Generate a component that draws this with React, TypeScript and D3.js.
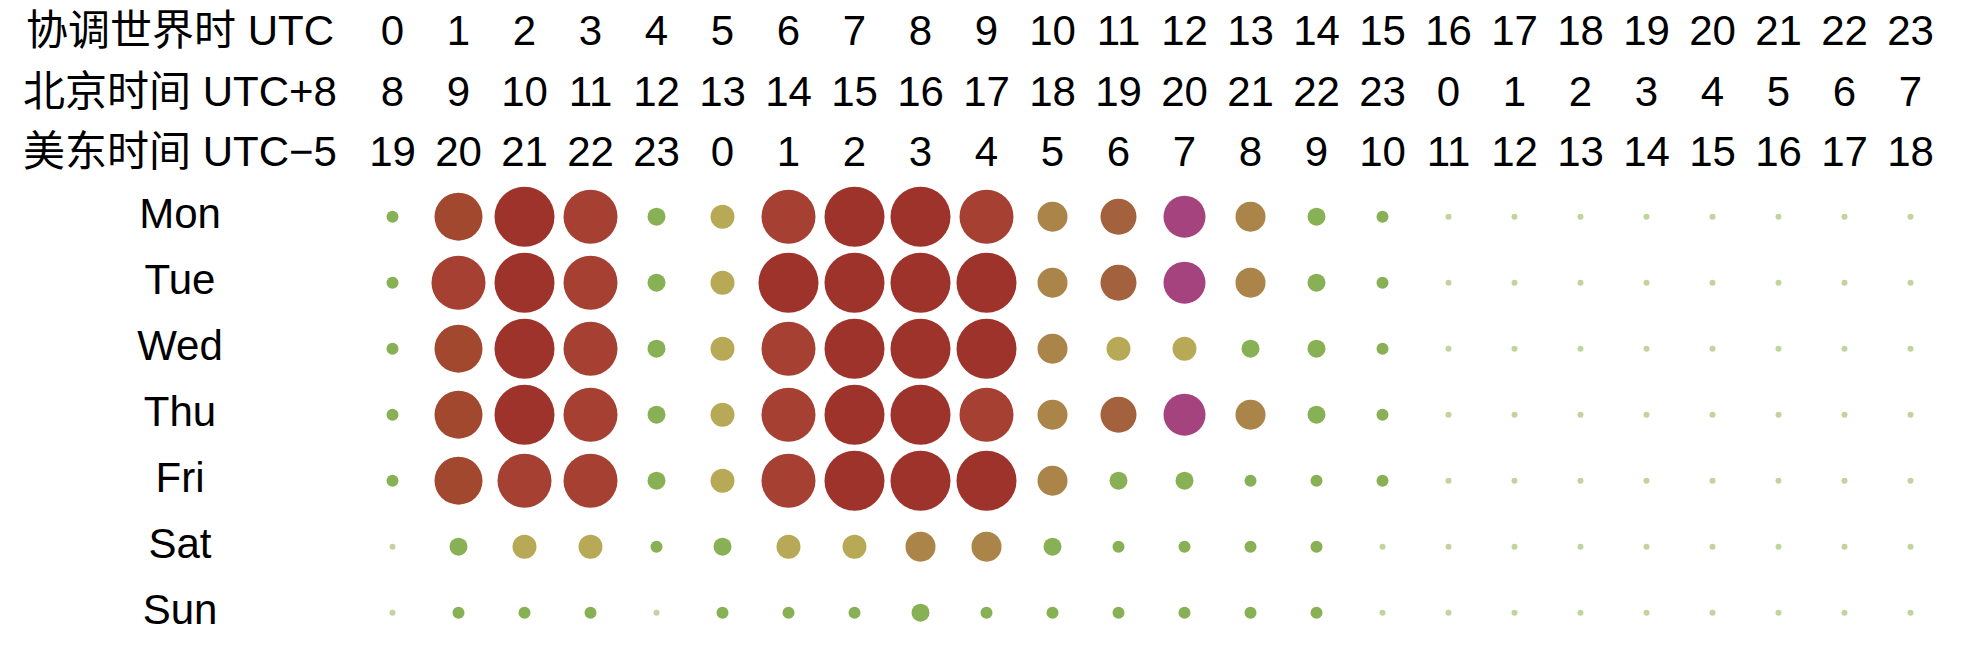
import React from "react";
import * as d3 from "d3";

// hour labels, one per column
const hoursUTC = d3.range(24).map(String);
const hoursBeijing = ["8", "9", "10", "11", "12", "13", "14", "15", "16", "17", "18", "19", "20", "21", "22", "23", "0", "1", "2", "3", "4", "5", "6", "7"];
const hoursET = ["19", "20", "21", "22", "23", "0", "1", "2", "3", "4", "5", "6", "7", "8", "9", "10", "11", "12", "13", "14", "15", "16", "17", "18"];

const headerLabels = ["协调世界时 UTC", "北京时间 UTC+8", "美东时间 UTC−5"];
const days = ["Mon", "Tue", "Wed", "Thu", "Fri", "Sat", "Sun"];

// activity level per UTC hour (1..10)
const mon = [2, 8, 10, 9, 3, 4, 9, 10, 10, 9, 5, 6, 7, 5, 3, 2, 1, 1, 1, 1, 1, 1, 1, 1];
const tue = [2, 9, 10, 9, 3, 4, 10, 10, 10, 10, 5, 6, 7, 5, 3, 2, 1, 1, 1, 1, 1, 1, 1, 1];
const wed = [2, 8, 10, 9, 3, 4, 9, 10, 10, 10, 5, 4, 4, 3, 3, 2, 1, 1, 1, 1, 1, 1, 1, 1];
const thu = [2, 8, 10, 9, 3, 4, 9, 10, 10, 9, 5, 6, 7, 5, 3, 2, 1, 1, 1, 1, 1, 1, 1, 1];
const fri = [2, 8, 9, 9, 3, 4, 9, 10, 10, 10, 5, 3, 3, 2, 2, 2, 1, 1, 1, 1, 1, 1, 1, 1];
const sat = [1, 3, 4, 4, 2, 3, 4, 4, 5, 5, 3, 2, 2, 2, 2, 1, 1, 1, 1, 1, 1, 1, 1, 1];
const sun = [1, 2, 2, 2, 1, 2, 2, 2, 3, 2, 2, 2, 2, 2, 2, 1, 1, 1, 1, 1, 1, 1, 1, 1];
const levels = [mon, tue, wed, thu, fri, sat, sun];

const levelColors = ["#c1d49d", "#88b055", "#88b055", "#b8a957", "#aa8449", "#a3623d", "#a5437f", "#a1482f", "#a54033", "#9e332c"];

const W = 1961;
const H = 648;
const FONT = "'Liberation Sans', Arial, 'Noto Sans CJK SC', sans-serif";

export default function App() {
  const x = d3.scaleBand<string>().domain(hoursUTC).range([359.5, 359.5 + 66 * 24]);
  const y = d3.scaleBand<string>().domain(days).range([183.7, 183.7 + 66 * 7]);
  const r = d3.scaleLinear().domain([0, 10]).range([0, 30]);
  const color = d3.scaleOrdinal<number, string>().domain(d3.range(1, 11)).range(levelColors);
  const labelX = 180;
  const headerY = [45, 106, 166];
  const headerRows = [hoursUTC, hoursBeijing, hoursET];
  const cx = (h: string) => (x(h) ?? 0) + x.bandwidth() / 2;
  const cy = (d: string) => (y(d) ?? 0) + y.bandwidth() / 2;

  return (
    <svg
      width={W}
      height={H}
      style={{ position: "absolute", left: 0, top: 0, background: "#fff" }}
      fontFamily={FONT}
    >
      {headerRows.map((row, i) => (
        <g key={i} fontSize={42} fill="#000">
          <text x={labelX} y={headerY[i]} textAnchor="middle">
            {headerLabels[i]}
          </text>
          {row.map((t, j) => (
            <text key={j} x={cx(hoursUTC[j])} y={headerY[i]} textAnchor="middle">
              {t}
            </text>
          ))}
        </g>
      ))}
      {days.map((d, i) => (
        <g key={d}>
          <text x={labelX} y={cy(d) + 11} textAnchor="middle" fontSize={42} fill="#000">
            {d}
          </text>
          {levels[i].map((v, j) => (
            <circle key={j} cx={cx(hoursUTC[j])} cy={cy(d)} r={r(v)} fill={color(v)} />
          ))}
        </g>
      ))}
    </svg>
  );
}
